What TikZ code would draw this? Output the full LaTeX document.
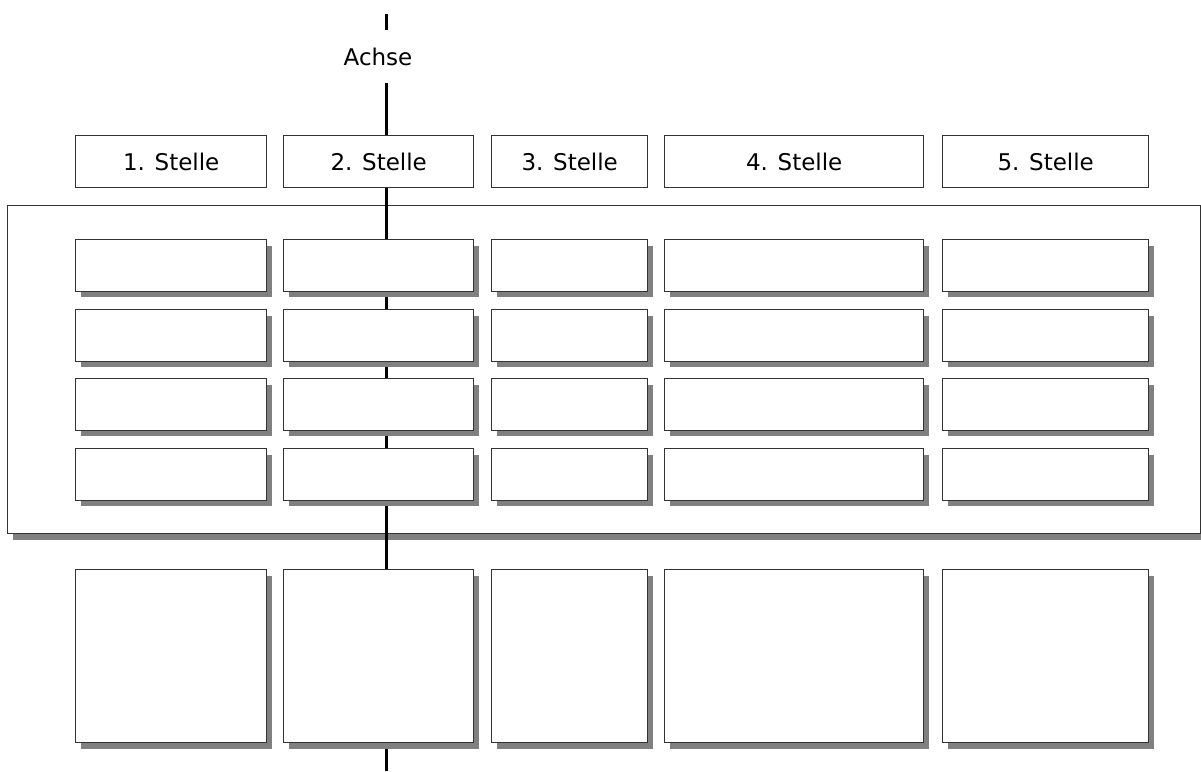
\documentclass[tikz,border=0pt]{standalone}
\usepackage{fontspec}
\setmainfont{DejaVu Sans}
\usetikzlibrary{calc, positioning}
\usetikzlibrary{shadows}

\begin{document}
\begin{tikzpicture}[x=1pt, y=-1pt,
        kasten/.style={draw=black!80, line width=1.4pt, fill=white,
            anchor=north west, inner sep=0pt},
        schatten/.style={kasten,
            drop shadow={shadow xshift=5pt, shadow yshift=-6pt, fill=black!50, opacity=1}},
        achslinie/.style={line width=3pt, black},
        font=\fontsize{23}{28}\selectfont]
        \useasboundingbox (0,0) rectangle (1201,771);

        % grosser Rahmen hinter der Achse
        \node[schatten, minimum width=1193pt, minimum height=328pt] (rahmen) at (7,205) {};

        \coordinate (oben) at (386,14);
        \coordinate (unten) at (386,771);
        \node[minimum height=53pt, inner sep=0pt] (achse) at (378,56.5) {Achse};

        \draw[achslinie] (oben) -- (oben |- achse.north);
        \draw[achslinie] (achse.south -| oben) -- (unten);

        \foreach \n/\l/\w in {1/75/191, 2/283/190, 3/491/156, 4/664/259, 5/942/206} {
            \node[kasten, minimum width=\w pt, minimum height=52pt] (kopf\n) at (\l,135) {\n. Stelle};
            \foreach \r/\t in {1/239, 2/309, 3/378, 4/448}
                \node[schatten, minimum width=\w pt, minimum height=51.5pt] (feld\n\r) at (\l,\t) {};
            \node[schatten, minimum width=\w pt, minimum height=173pt] (fuss\n) at (\l,569) {};
        }
    \end{tikzpicture}
\end{document}
